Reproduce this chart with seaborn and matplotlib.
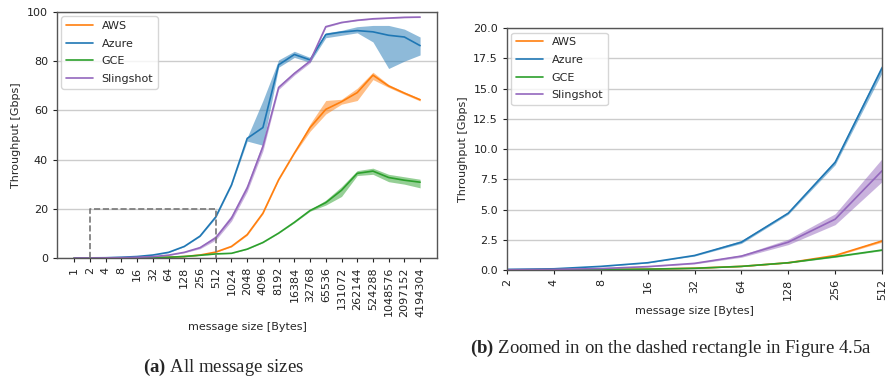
import numpy as np
import pandas as pd
import matplotlib
matplotlib.use("Agg")
import matplotlib.pyplot as plt
import seaborn as sns

sizes = [1, 2, 4, 8, 16, 32, 64, 128, 256, 512, 1024, 2048, 4096, 8192, 16384,
         32768, 65536, 131072, 262144, 524288, 1048576, 2097152, 4194304]
providers = ["AWS", "Azure", "GCE", "Slingshot"]

aws_mean = [0.005, 0.01, 0.02, 0.04, 0.07, 0.15, 0.3, 0.6, 1.2, 2.4, 4.7, 9.5, 18.2, 31.8, 42.6, 53.0, 60.4, 63.5, 67.2, 74.3, 69.9, 67.0, 64.3]
aws_lo = [0.005, 0.01, 0.02, 0.04, 0.07, 0.14, 0.28, 0.57, 1.15, 2.3, 4.5, 9.2, 17.9, 31.5, 42.3, 51.5, 58.5, 62.5, 64.0, 72.5, 69.3, 66.5, 63.8]
aws_hi = [0.005, 0.01, 0.02, 0.04, 0.07, 0.16, 0.32, 0.63, 1.25, 2.5, 4.9, 9.8, 18.5, 32.1, 42.9, 54.5, 64.0, 64.5, 69.0, 75.5, 70.5, 67.5, 64.8]

azure_mean = [0.02, 0.05, 0.1, 0.3, 0.6, 1.2, 2.3, 4.7, 8.9, 16.7, 29.7, 48.6, 53.0, 78.5, 82.7, 80.5, 90.8, 91.8, 92.4, 91.9, 90.5, 89.8, 86.3]
azure_lo = [0.02, 0.05, 0.1, 0.28, 0.58, 1.15, 2.2, 4.6, 8.7, 16.3, 29.3, 47.5, 45.8, 77.5, 81.5, 79.5, 89.5, 90.5, 91.5, 87.8, 77.0, 80.0, 82.5]
azure_hi = [0.02, 0.05, 0.1, 0.32, 0.62, 1.25, 2.45, 4.8, 9.1, 17.0, 30.1, 49.0, 64.0, 80.5, 84.0, 81.5, 91.5, 92.5, 94.0, 94.5, 94.5, 93.0, 89.8]

gce_mean = [0.005, 0.01, 0.02, 0.04, 0.07, 0.14, 0.3, 0.6, 1.1, 1.65, 1.9, 3.6, 6.3, 10.1, 14.5, 19.3, 22.5, 27.5, 34.4, 35.3, 32.7, 31.6, 30.8]
gce_lo = [0.005, 0.01, 0.02, 0.04, 0.07, 0.13, 0.28, 0.57, 1.05, 1.6, 1.85, 3.5, 6.2, 10.0, 14.3, 19.0, 21.5, 25.0, 33.5, 34.0, 31.0, 30.0, 28.5]
gce_hi = [0.005, 0.01, 0.02, 0.04, 0.07, 0.15, 0.32, 0.63, 1.15, 1.7, 1.95, 3.7, 6.4, 10.2, 14.7, 19.6, 23.5, 29.0, 35.5, 36.5, 34.0, 33.0, 32.0]

sling_mean = [0.01, 0.02, 0.05, 0.12, 0.28, 0.55, 1.15, 2.3, 4.2, 8.2, 16.2, 28.4, 45.3, 69.3, 75.0, 80.0, 94.0, 95.7, 96.6, 97.2, 97.5, 97.8, 97.9]
sling_lo = [0.01, 0.02, 0.04, 0.1, 0.25, 0.5, 1.05, 2.1, 3.75, 7.3, 15.0, 27.0, 43.5, 68.5, 74.3, 79.3, 93.7, 95.5, 96.4, 97.0, 97.3, 97.6, 97.7]
sling_hi = [0.01, 0.02, 0.06, 0.14, 0.31, 0.6, 1.25, 2.55, 4.65, 9.2, 17.5, 30.0, 47.0, 70.0, 75.7, 80.7, 94.3, 95.9, 96.8, 97.4, 97.7, 98.0, 98.1]

series = {
    "AWS": (aws_mean, aws_lo, aws_hi),
    "Azure": (azure_mean, azure_lo, azure_hi),
    "GCE": (gce_mean, gce_lo, gce_hi),
    "Slingshot": (sling_mean, sling_lo, sling_hi),
}
palette = {"AWS": "#ff7f0e", "Azure": "#1f77b4", "GCE": "#2ca02c", "Slingshot": "#9467bd"}

pos = list(range(len(sizes)))
rows = []
for p in providers:
    m, lo, hi = series[p]
    for i, s in enumerate(sizes):
        rows.append({"pos": pos[i], "size": s, "provider": p, "mean": m[i], "lo": lo[i], "hi": hi[i]})
df = pd.DataFrame(rows)

sns.set_style("ticks")
plt.rcParams["font.family"] = ["DejaVu Sans"]
plt.rcParams["mathtext.fontset"] = "custom"
plt.rcParams["mathtext.rm"] = "Liberation Serif"
plt.rcParams["mathtext.bf"] = "Liberation Serif:bold"

FS = 8

fig = plt.figure(figsize=(8.95, 3.78), dpi=100)
ax1 = fig.add_axes([0.0637, 0.3175, 0.425, 0.651])
ax2 = fig.add_axes([0.5665, 0.2857, 0.419, 0.640])

def draw(ax, sub):
    sns.lineplot(data=sub, x="pos", y="mean", hue="provider", hue_order=providers,
                 palette=palette, ax=ax, linewidth=1.2, errorbar=None)
    for p in providers:
        d = sub[sub["provider"] == p]
        ax.fill_between(d["pos"], d["lo"], d["hi"], color=palette[p], alpha=0.5, linewidth=0)
    ax.grid(axis="y", color="#cccccc", linewidth=1.0)
    ax.set_axisbelow(True)
    for sp in ax.spines.values():
        sp.set_color("#555555")
        sp.set_linewidth(1.0)
    ax.tick_params(labelsize=FS, colors="#222222", length=3)
    ax.set_ylabel("Throughput [Gbps]", fontsize=FS)
    ax.set_xlabel("message size [Bytes]", fontsize=FS)
    leg = ax.legend(loc="upper left", fontsize=FS, frameon=True, handlelength=2.4,
                    borderaxespad=0.4, labelspacing=0.7)
    leg.get_frame().set_edgecolor("#cccccc")

# (a) all sizes
draw(ax1, df)
ax1.set_xlim(-1.1, 23.1)
ax1.set_ylim(0, 100)
ax1.set_yticks([0, 20, 40, 60, 80, 100])
ax1.set_xticks(pos)
ax1.set_xticklabels([str(s) for s in sizes], rotation=90)
# dashed rectangle (zoom region)
ax1.plot([1, 1, 9, 9], [0, 20, 20, 0], linestyle="--", color="#777777", linewidth=1.2, zorder=5)

# (b) zoomed
sub = df[(df["size"] >= 2) & (df["size"] <= 512)]
draw(ax2, sub)
ax2.set_xlim(1, 9)
ax2.set_ylim(0, 20)
ax2.set_yticks(np.arange(0, 20.01, 2.5))
ax2.set_yticklabels([f"{v:.1f}" for v in np.arange(0, 20.01, 2.5)])
zpos = [p for p, s in zip(pos, sizes) if 2 <= s <= 512]
ax2.set_xticks(zpos)
ax2.set_xticklabels([str(s) for s in sizes if 2 <= s <= 512], rotation=90)

fig.text(0.250, 1 - 367 / 378, r"$\mathbf{(a)}$ All message sizes", ha="center", va="center",
         fontsize=13.5, family="Liberation Serif")
fig.text(0.750, 1 - 348 / 378, r"$\mathbf{(b)}$ Zoomed in on the dashed rectangle in Figure 4.5a",
         ha="center", va="center", fontsize=13.5, family="Liberation Serif")

fig.savefig("out.png", dpi=100)
